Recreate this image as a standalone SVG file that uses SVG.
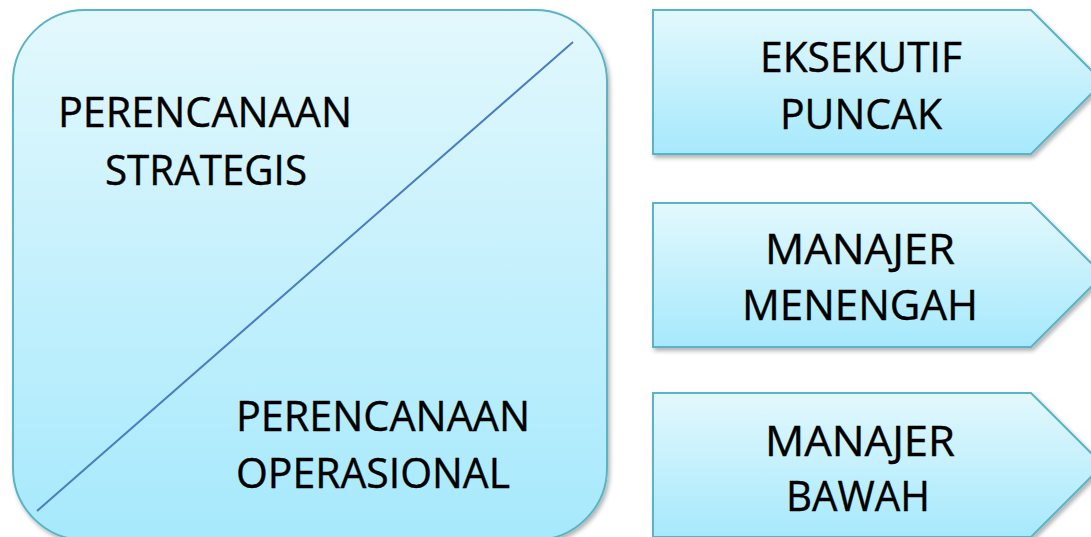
<svg xmlns="http://www.w3.org/2000/svg" width="1091" height="537" viewBox="0 0 1091 537">
<defs>
<linearGradient id="gBig" x1="0" y1="0" x2="0" y2="1">
<stop offset="0" stop-color="#e3f8fd"/>
<stop offset="1" stop-color="#a6e9fc"/>
</linearGradient>
<linearGradient id="gArr" x1="0" y1="0" x2="0" y2="1">
<stop offset="0" stop-color="#e3f8fd"/>
<stop offset="1" stop-color="#a6e9fc"/>
</linearGradient>
<filter id="sh" x="-5%" y="-5%" width="115%" height="115%">
<feDropShadow dx="2" dy="3" stdDeviation="2" flood-color="#000" flood-opacity="0.3"/>
</filter>
</defs>
<style>
.shape{stroke:#5ab4c5;stroke-width:2;filter:url(#sh)}
.t{font-family:"Open Sans","Liberation Sans",sans-serif;font-size:42px;fill:#000;stroke:#000;stroke-width:0.4}
.m{text-anchor:middle}
</style>
<g id="planning">
<rect class="shape" x="13" y="10" width="594" height="530" rx="72" ry="72" fill="url(#gBig)"/>
<text class="t" x="58" y="127" textLength="294" lengthAdjust="spacingAndGlyphs">PERENCANAAN</text>
<text class="t" x="105" y="185" textLength="202" lengthAdjust="spacingAndGlyphs">STRATEGIS</text>
<text class="t" x="236" y="431" textLength="294" lengthAdjust="spacingAndGlyphs">PERENCANAAN</text>
<text class="t" x="236" y="488" textLength="274" lengthAdjust="spacingAndGlyphs">OPERASIONAL</text>
</g>
<g id="connectors">
<line x1="573" y1="42" x2="37" y2="511" stroke="#4a7ebf" stroke-width="2"/>
</g>
<g id="top-exec">
<path class="shape" d="M653,10 H1031 L1103,82 L1031,154 H653 Z" fill="url(#gArr)"/>
<text class="t m" x="861" y="72" textLength="202" lengthAdjust="spacingAndGlyphs">EKSEKUTIF</text>
<text class="t m" x="861" y="129" textLength="162" lengthAdjust="spacingAndGlyphs">PUNCAK</text>
</g>
<g id="middle-manager">
<path class="shape" d="M653,203 H1031 L1103,275 L1031,347 H653 Z" fill="url(#gArr)"/>
<text class="t m" x="860" y="264" textLength="190" lengthAdjust="spacingAndGlyphs">MANAJER</text>
<text class="t m" x="860" y="320" textLength="236" lengthAdjust="spacingAndGlyphs">MENENGAH</text>
</g>
<g id="lower-manager">
<path class="shape" d="M653,393 H1031 L1103,465 L1031,537 H653 Z" fill="url(#gArr)"/>
<text class="t m" x="860" y="456" textLength="190" lengthAdjust="spacingAndGlyphs">MANAJER</text>
<text class="t m" x="858" y="511" textLength="144" lengthAdjust="spacingAndGlyphs">BAWAH</text>
</g>
</svg>
